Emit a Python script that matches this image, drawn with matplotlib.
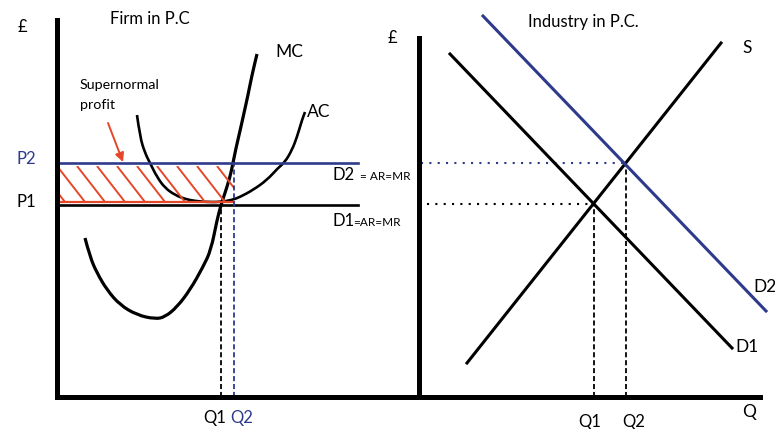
import numpy as np
import matplotlib
matplotlib.use("Agg")
import matplotlib.pyplot as plt
from matplotlib.patches import Rectangle, PathPatch
from matplotlib.path import Path

plt.rcParams['font.family'] = ['Lato', 'DejaVu Sans']

BLUE = "#2E3A8C"
RED = "#E5472A"

# ---------------- Firm panel data (Q, £) ----------------
mc_q = [28, 33, 40, 50, 63, 80, 98, 108, 120, 133, 146, 154, 160, 164, 168, 173, 176, 179, 183, 187, 191, 195, 200]
mc_p = [159, 140, 124, 107, 92, 82, 78, 80, 90, 107, 130, 147, 177, 192, 204, 220, 234, 249, 266, 284, 302, 322, 343]
ac_q = [80, 83, 88, 93, 100, 108, 118, 128, 138, 150, 163, 175, 183, 196, 210, 221, 228, 235, 240, 245, 248]
ac_p = [282, 260, 244, 234, 220, 209, 202, 198, 196, 195, 195, 197, 200, 207, 217, 229, 235, 247, 260, 277, 285]
firm_P1 = 192
firm_P2 = 234
profit_floor = 195
firm_Q1 = 164
firm_Q2 = 177
firm_line_end = 301
arrow_tail = (51, 274)
arrow_head = (66, 235)

# ---------------- Industry panel data ----------------
s_q = [48, 302]
s_p = [34, 354]
d1_q = [31, 313]
d1_p = [343, 49]
d2_q = [64, 347]
d2_p = [381, 86]
ind_Q1 = 175
ind_Q2 = 207
ind_P1 = 193
ind_P2 = 234


def smooth_curve(ax, xs, ys, **kw):
    """Draw a smooth curve through the read points (quadratic Bezier path)."""
    pts = list(zip(xs, ys))
    verts = [pts[0]]
    codes = [Path.MOVETO]
    for i in range(1, len(pts) - 1):
        mid = ((pts[i][0] + pts[i + 1][0]) / 2, (pts[i][1] + pts[i + 1][1]) / 2)
        verts += [pts[i], mid]
        codes += [Path.CURVE3, Path.CURVE3]
    verts.append(pts[-1])
    codes.append(Path.LINETO)
    patch = PathPatch(Path(verts, codes), facecolor="none", capstyle="butt", **kw)
    ax.add_patch(patch)
    return patch


W, H = 775, 429
fig = plt.figure(figsize=(W / 100, H / 100), dpi=100)

ax1 = fig.add_axes([57 / W, (H - 397) / H, 362 / W, 377 / H])
ax2 = fig.add_axes([419 / W, (H - 397) / H, 356 / W, 377 / H])
for ax, xmax in ((ax1, 362), (ax2, 356)):
    ax.set_xlim(0, xmax)
    ax.set_ylim(0, 377)
    ax.set_xticks([])
    ax.set_yticks([])
    ax.patch.set_alpha(0)
    for s in ("top", "right"):
        ax.spines[s].set_visible(False)
    for s in ("left", "bottom"):
        ax.spines[s].set_linewidth(3.6)
        ax.spines[s].set_color("black")
ax2.spines["left"].set_bounds(0, 359)
ax2.spines["bottom"].set_bounds(0, 341)

# ---------------- Firm panel ----------------
rect = Rectangle((0, profit_floor), firm_Q2, firm_P2 - profit_floor - 3,
                 facecolor="none", edgecolor="none")
ax1.add_patch(rect)
top = firm_P2 - 3
for x0 in np.arange(-40, firm_Q2 + 20, 20):
    ln, = ax1.plot([x0, x0 + 28], [top, profit_floor], color=RED, lw=1.4,
                   solid_capstyle="butt")
    ln.set_clip_path(rect)

ax1.plot([0, firm_line_end], [firm_P2, firm_P2], color=BLUE, lw=1.9)
ax1.plot([0, firm_line_end], [firm_P1, firm_P1], color="black", lw=1.9)
ax1.plot([0, firm_Q2], [profit_floor, profit_floor], color=RED, lw=1.6)
ax1.plot([firm_Q1, firm_Q1], [0, firm_P1], color="black", lw=1.3,
         linestyle=(0, (2.8, 1.6)))
ax1.plot([firm_Q2, firm_Q2], [0, firm_P2], color=BLUE, lw=1.3,
         linestyle=(0, (2.8, 1.6)))
smooth_curve(ax1, mc_q, mc_p, edgecolor="black", lw=2.3)
smooth_curve(ax1, ac_q, ac_p, edgecolor="black", lw=1.9)
ax1.annotate("", xy=arrow_head, xytext=arrow_tail,
             arrowprops=dict(arrowstyle="-|>", color=RED, lw=1.4,
                             mutation_scale=13, shrinkA=0, shrinkB=0))

kw = dict(clip_on=False, va="baseline", ha="left")
ax1.text(-35, 365, "£", fontsize=12, ha="center", va="baseline", clip_on=False)
ax1.text(53, 373, "Firm in P.C", fontsize=12, **kw)
ax1.text(218, 340, "MC", fontsize=12.5, **kw)
ax1.text(250, 280, "AC", fontsize=12.5, **kw)
ax1.text(-40, 233, "P2", fontsize=12, color=BLUE, **kw)
ax1.text(-40, 190, "P1", fontsize=12, **kw)
ax1.text(23, 308, "Supernormal", fontsize=10.3, **kw)
ax1.text(23, 288, "profit", fontsize=10.3, **kw)
ax1.text(276, 217, "D2", fontsize=12, **kw)
ax1.text(303, 217, "= AR=MR", fontsize=8.5, **kw)
ax1.text(276, 171, "D1", fontsize=12, **kw)
ax1.text(296, 171, "=AR=MR", fontsize=8.5, **kw)
ax1.text(146, -26, "Q1", fontsize=12, **kw)
ax1.text(173, -26, "Q2", fontsize=12, color=BLUE, **kw)

# ---------------- Industry panel ----------------
ax2.plot([2, ind_Q2], [ind_P2, ind_P2], color=BLUE, lw=1.5,
         linestyle=(0, (1, 3)))
ax2.plot([8, ind_Q1], [ind_P1, ind_P1], color="black", lw=1.5,
         linestyle=(0, (1, 3)))
ax2.plot([ind_Q1, ind_Q1], [0, ind_P1], color="black", lw=1.3,
         linestyle=(0, (2.8, 1.6)))
ax2.plot([ind_Q2, ind_Q2], [0, ind_P2], color="black", lw=1.3,
         linestyle=(0, (2.8, 1.6)))
ax2.plot(s_q, s_p, color="black", lw=2.2, clip_on=False)
ax2.plot(d1_q, d1_p, color="black", lw=2.2, clip_on=False)
ax2.plot(d2_q, d2_p, color=BLUE, lw=2.2, clip_on=False)

ax2.text(-27, 354, "£", fontsize=12, ha="center", va="baseline", clip_on=False)
ax2.text(109, 370, "Industry in P.C.", fontsize=12, **kw)
ax2.text(323, 344, "S", fontsize=12.5, **kw)
ax2.text(334, 105, "D2", fontsize=12.5, **kw)
ax2.text(316, 45, "D1", fontsize=12.5, **kw)
ax2.text(323, -20, "Q", fontsize=12.5, **kw)
ax2.text(159, -30, "Q1", fontsize=12, **kw)
ax2.text(203, -30, "Q2", fontsize=12, **kw)

fig.savefig("out.png", dpi=100, facecolor="white")
